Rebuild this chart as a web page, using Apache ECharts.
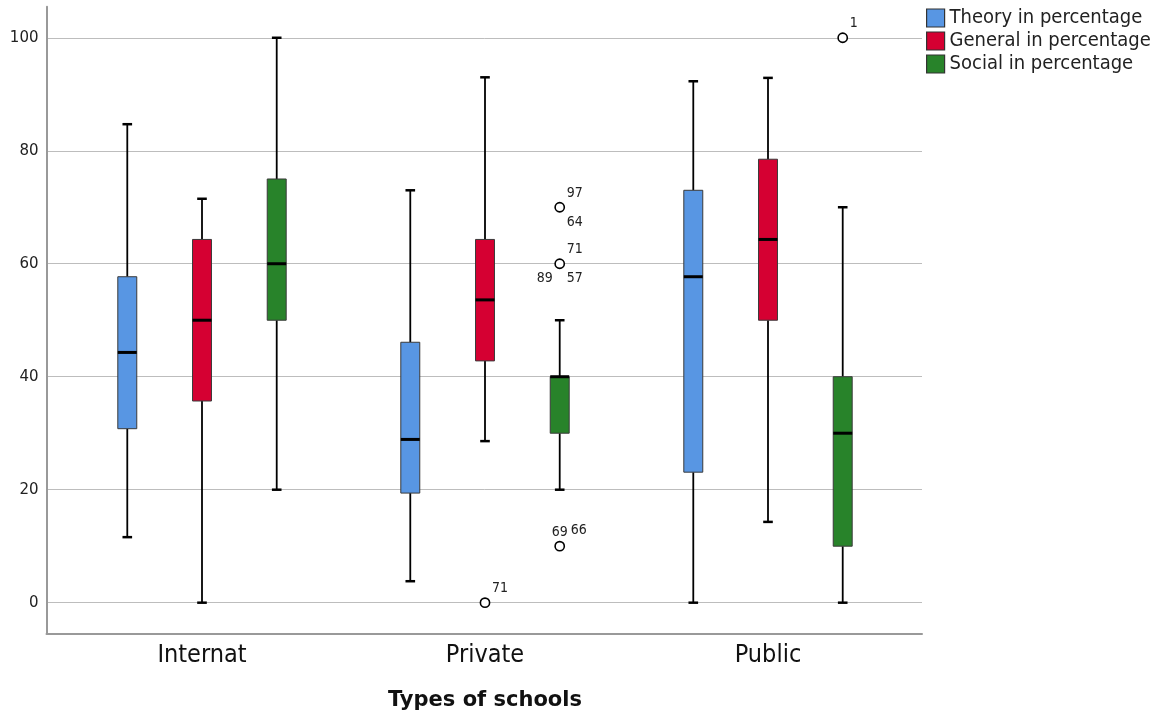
<!DOCTYPE html>
<html><head><meta charset="utf-8">
<script src="https://cdn.jsdelivr.net/npm/echarts@6/dist/echarts.min.js"></script>
<style>html,body{margin:0;padding:0;background:#fff}#c{width:1163px;height:717px}</style>
</head><body><div id="c"></div><script>
const categories = ['Internat', 'Private', 'Public'];
const seriesNames = ['Theory in percentage', 'General in percentage', 'Social in percentage'];
// per category: [min whisker, Q1, median, Q3, max whisker]
const theory  = [[11.6, 30.8, 44.3, 57.7, 84.7], [3.8, 19.4, 28.9, 46.1, 73.0], [0, 23.1, 57.7, 73.0, 92.3]];
const general = [[0, 35.7, 50.0, 64.3, 71.5], [28.6, 42.8, 53.6, 64.3, 93.0], [14.3, 50.0, 64.3, 78.5, 92.9]];
const social  = [[20, 50, 60, 75, 100], [20, 30, 40, 40, 50], [0, 10, 30, 40, 70]];
// outliers: [category index, series index, value, case labels [text, placement]]
const outliers = [
  [1, 1, 0,   [['71', 'tr']]],
  [1, 2, 70,  [['97', 'tr'], ['64', 'br']]],
  [1, 2, 60,  [['71', 'tr'], ['89', 'bl'], ['57', 'br']]],
  [1, 2, 10,  [['69', 't'], ['66', 'tr2']]],
  [2, 2, 100, [['1', 'tr']]]
];

const colors = ['#5896E3', '#D50032', '#28832A'];
const seriesData = [theory, general, social];
const offsets = [-0.264, 0, 0.264];   // fraction of category band
const boxFrac = 0.067, capFrac = 0.034;
const placement = {
  tr: [7, -14, 'left'], br: [7, 15, 'left'], bl: [-7, 15, 'right'],
  t: [0, -14, 'center'], tr2: [11, -16, 'left']
};
const COND = '"DejaVu Sans Condensed", "DejaVu Sans", sans-serif';
const YMIN = -5.42, YMAX = 105.5;
const G = {top: 6.7, bottom: 83.7};

function boxRender(sIdx) {
  return function (params, api) {
    const cat = api.value(0);
    const band = api.size([1, 0])[0];
    const cx = api.coord([cat, 0])[0] + offsets[sIdx] * band;
    const hw = boxFrac * band / 2, cw = capFrac * band / 2;
    const Y = i => api.coord([cat, api.value(i)])[1];
    const yMin = Y(1), yQ1 = Y(2), yMed = Y(3), yQ3 = Y(4), yMax = Y(5);
    const ws = {stroke: '#000', lineWidth: 1.8};
    const cs = {stroke: '#000', lineWidth: 2.5};
    return {type: 'group', children: [
      {type: 'line', shape: {x1: cx, y1: yMax, x2: cx, y2: yQ3}, style: ws},
      {type: 'line', shape: {x1: cx, y1: yQ1, x2: cx, y2: yMin}, style: ws},
      {type: 'line', shape: {x1: cx - cw, y1: yMax, x2: cx + cw, y2: yMax}, style: cs},
      {type: 'line', shape: {x1: cx - cw, y1: yMin, x2: cx + cw, y2: yMin}, style: cs},
      {type: 'rect', shape: {x: cx - hw, y: yQ3, width: 2 * hw, height: yQ1 - yQ3},
        style: {fill: colors[sIdx], stroke: '#3a3a3a', lineWidth: 1}},
      {type: 'line', shape: {x1: cx - hw, y1: yMed, x2: cx + hw, y2: yMed}, style: {stroke: '#000', lineWidth: 3}}
    ]};
  };
}

function outlierRender(params, api) {
  const cat = api.value(0), sIdx = api.value(1);
  const band = api.size([1, 0])[0];
  const p = api.coord([cat, api.value(2)]);
  const cx = p[0] + offsets[sIdx] * band, cy = p[1];
  const children = [{type: 'circle', shape: {cx: cx, cy: cy, r: 4.6},
    style: {fill: '#fff', stroke: '#000', lineWidth: 1.6}}];
  outliers[params.dataIndex][3].forEach(function (l) {
    const pl = placement[l[1]];
    children.push({type: 'text', style: {text: l[0], x: cx + pl[0], y: cy + pl[1],
      fill: '#222', font: '14px ' + COND, textAlign: pl[2], textVerticalAlign: 'middle'}});
  });
  return {type: 'group', children: children};
}

const series = seriesNames.map(function (name, s) {
  return {
    name: name, type: 'custom', xAxisIndex: 1, yAxisIndex: 1,
    itemStyle: {color: colors[s], borderColor: '#333', borderWidth: 1},
    renderItem: boxRender(s),
    encode: {x: 0, y: [1, 2, 3, 4, 5]},
    data: seriesData[s].map(function (d, i) { return [i].concat(d); }),
    animation: false, silent: true
  };
});
series.push({
  name: 'outliers', type: 'custom', xAxisIndex: 1, yAxisIndex: 1,
  renderItem: outlierRender, encode: {x: 0, y: 2},
  data: outliers.map(function (o) { return [o[0], o[1], o[2]]; }),
  animation: false, silent: true, z: 5
});

const chart = echarts.init(document.getElementById('c'), null, {renderer: 'canvas'});
chart.setOption({
  animation: false,
  backgroundColor: '#fff',
  legend: {
    data: seriesNames, orient: 'vertical', left: 921, top: 3,
    itemWidth: 18, itemHeight: 18, itemGap: 3, icon: 'rect',
    itemStyle: {borderColor: '#333', borderWidth: 1.2},
    textStyle: {fontFamily: COND, fontSize: 20, lineHeight: 18, color: '#222'}
  },
  grid: [
    {left: 46.5, right: 241, top: G.top, bottom: G.bottom},
    {left: 60.5, right: 253.5, top: G.top, bottom: G.bottom}
  ],
  xAxis: [
    {gridIndex: 0, type: 'value', min: 0, max: 1,
      axisLine: {show: true, onZero: false, lineStyle: {color: '#999', width: 2}},
      axisTick: {show: false}, axisLabel: {show: false}, splitLine: {show: false}},
    {gridIndex: 1, type: 'category', data: categories,
      axisLine: {show: false, onZero: false}, axisTick: {show: false},
      axisLabel: {fontFamily: COND, fontSize: 25, color: '#111', margin: 10},
      name: 'Types of schools', nameLocation: 'middle', nameGap: 57,
      nameTextStyle: {fontFamily: 'DejaVu Sans', fontWeight: 'bold', fontSize: 21, color: '#111'}}
  ],
  yAxis: [
    {gridIndex: 0, type: 'value', min: YMIN, max: YMAX,
      axisLine: {show: true, onZero: false, lineStyle: {color: '#999', width: 2}},
      axisTick: {show: false},
      axisLabel: {fontFamily: 'DejaVu Sans', fontSize: 15, color: '#222', margin: 8,
        showMinLabel: false, showMaxLabel: false},
      splitLine: {show: true, showMinLine: false, showMaxLine: false, lineStyle: {color: '#bdbdbd', width: 1}}},
    {gridIndex: 1, type: 'value', min: YMIN, max: YMAX, show: false, splitLine: {show: false}}
  ],
  series: series
});
</script></body></html>
